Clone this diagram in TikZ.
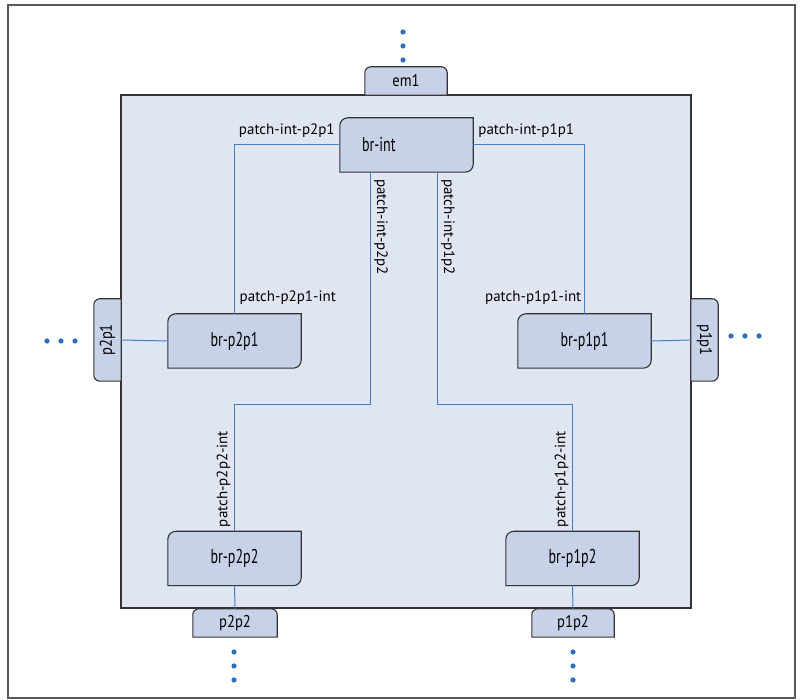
\documentclass[tikz,border=0pt]{standalone}
\usepackage{fontspec}
\setmainfont{PT Sans}
\newfontfamily\brfont[FakeStretch=0.70]{PT Sans}
\newfontfamily\portfont[FakeStretch=0.86]{PT Sans}
\usetikzlibrary{calc}
\pgfdeclarelayer{background}
\pgfsetlayers{background,main}
\definecolor{mainfill}{HTML}{DFE5F1}
\definecolor{boxfill}{HTML}{C7D2E8}
\definecolor{wire}{HTML}{3F7FC8}
\definecolor{dotc}{HTML}{2E6DB8}
\definecolor{edge}{HTML}{333333}
\tikzset{
  x=1pt,y=1pt,
  boxshape/.style={fill=boxfill,draw=edge,line width=1.1pt},
  brnode/.style={inner sep=0pt,minimum width=133pt,minimum height=54pt,font=\brfont\fontsize{20}{20}\selectfont},
  portnode/.style={inner sep=0pt,font=\portfont\fontsize{17}{17}\selectfont},
  lbl/.style={inner sep=0pt,font=\fontsize{15}{15}\selectfont},
  wireline/.style={draw=wire,line width=1pt},
  dotfill/.style={fill=dotc}
}
\begin{document}
\begin{tikzpicture}
\useasboundingbox (0,0) rectangle (801,700);

% nodes
\node[brnode] (bri) at (406.5,555) {};
\node[inner sep=0pt,anchor=west,font=\brfont\fontsize{20}{20}\selectfont] (britxt) at ([xshift=22pt]bri.west) {br-int};
\node[brnode] (brp2p1) at (234.5,359) {br-p2p1};
\node[brnode] (brp1p1) at (584.5,359) {br-p1p1};
\node[brnode] (brp2p2) at (234.5,141.5) {br-p2p2};
\node[brnode] (brp1p2) at (572.5,141.5) {br-p1p2};
\node[portnode,minimum width=82pt,minimum height=28pt] (em1) at (406,619) {em1};
\node[portnode,minimum width=84pt,minimum height=28pt] (p2p2) at (235,77) {p2p2};
\node[portnode,minimum width=82pt,minimum height=28pt] (p1p2) at (573,77) {p1p2};
\node[portnode,minimum width=27pt,minimum height=82pt] (p2p1) at (107.5,360) {};
\node[portnode,rotate=90] at (p2p1.center) {p2p1};
\node[portnode,minimum width=27pt,minimum height=82pt] (p1p1) at (704.5,360) {};
\node[portnode,rotate=-90] at (p1p1.center) {p1p1};

\begin{pgfonlayer}{background}
\draw[draw=black!65,line width=1.2pt] (8,2) rectangle (795,695);
\draw[fill=mainfill,draw=edge,line width=1.1pt] (121,92) rectangle (691,605);
% bridge boxes: rounded top-left and bottom-right
\foreach \n in {bri,brp2p1,brp1p1,brp2p2,brp1p2}{
  \path[boxshape] (\n.south west) -- ([yshift=-8pt]\n.north west) arc[start angle=180,end angle=90,radius=8pt]
    -- (\n.north east) -- ([yshift=8pt]\n.south east) arc[start angle=0,end angle=-90,radius=8pt] -- cycle;
}
% ports with rounded top corners
\foreach \n in {em1,p2p2,p1p2}{
  \path[boxshape] (\n.south west) -- ([yshift=-6pt]\n.north west) arc[start angle=180,end angle=90,radius=6pt]
    -- ([xshift=-6pt]\n.north east) arc[start angle=90,end angle=0,radius=6pt] -- (\n.south east) -- cycle;
}
% left port rounded on the left
\path[boxshape] (p2p1.north east) -- ([xshift=6pt]p2p1.north west) arc[start angle=90,end angle=180,radius=6pt]
  -- ([yshift=6pt]p2p1.south west) arc[start angle=180,end angle=270,radius=6pt] -- (p2p1.south east) -- cycle;
% right port rounded on the right
\path[boxshape] (p1p1.north west) -- ([xshift=-6pt]p1p1.north east) arc[start angle=90,end angle=0,radius=6pt]
  -- ([yshift=6pt]p1p1.south east) arc[start angle=0,end angle=-90,radius=6pt] -- (p1p1.south west) -- cycle;

% connectors
\coordinate (m1) at (370,295);
\coordinate (m2) at (437,295);
\draw[wireline] (bri.west) -| (brp2p1.north);
\draw[wireline] (bri.east) -| (brp1p1.north);
\draw[wireline] (bri.south -| m1) -- (m1) -| (brp2p2.north);
\draw[wireline] (bri.south -| m2) -- (m2) -| (brp1p2.north);
\draw[wireline] (p2p1.east) -- (brp2p1.west);
\draw[wireline] (brp1p1.east) -- (p1p1.west);
\draw[wireline] (brp2p2.south) -- (p2p2.north);
\draw[wireline] (brp1p2.south) -- (p1p2.north);
\end{pgfonlayer}

% labels
\node[lbl,anchor=south east] at ([xshift=-5pt,yshift=7pt]bri.west) {patch-int-p2p1};
\node[lbl,anchor=south west] at ([xshift=5pt,yshift=7pt]bri.east) {patch-int-p1p1};
\node[lbl,anchor=south west] at ([xshift=5pt,yshift=9pt]brp2p1.north) {patch-p2p1-int};
\node[lbl,anchor=south east] at ([xshift=-3pt,yshift=9pt]brp1p1.north) {patch-p1p1-int};
\node[lbl,rotate=-90,anchor=south west] at ([xshift=4pt,yshift=-7pt]bri.south -| m1) {patch-int-p2p2};
\node[lbl,rotate=-90,anchor=south west] at ([xshift=4pt,yshift=-7pt]bri.south -| m2) {patch-int-p1p2};
\node[lbl,rotate=90,anchor=south west] at ([xshift=-4pt,yshift=4pt]brp2p2.north) {patch-p2p2-int};
\node[lbl,rotate=90,anchor=south west] at ([xshift=-4pt,yshift=4pt]brp1p2.north) {patch-p1p2-int};

% dots
\foreach \y in {668,654,640} \fill[dotfill] (403,\y) circle (2.6pt);
\foreach \x in {47,61,75} \fill[dotfill] (\x,359) circle (2.6pt);
\foreach \x in {731,745,759} \fill[dotfill] (\x,364) circle (2.6pt);
\foreach \y in {48,34,20} {\fill[dotfill] (234,\y) circle (2.6pt); \fill[dotfill] (573,\y) circle (2.6pt);}
\end{tikzpicture}
\end{document}
